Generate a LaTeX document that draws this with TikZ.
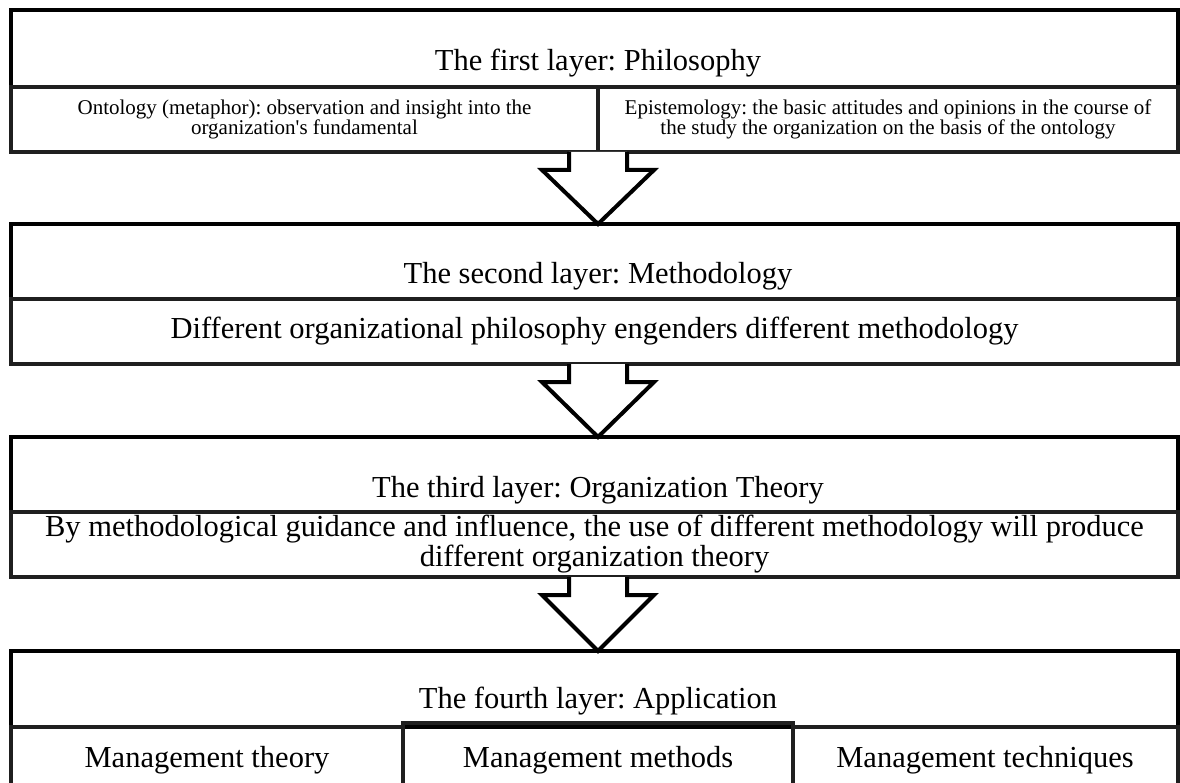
\documentclass[tikz,border=0pt]{standalone}
\usepackage{fontspec}
\setmainfont{Liberation Serif}
\usetikzlibrary{calc}
\frenchspacing
\newcommand\hollowarrow[2]{%
  \draw[bigarrow] ($(#1)+(-29,0)$) -- ($(#1)+(-29,18)$) -- ($(#1)+(-56,18)$)
    -- (#2) -- ($(#1)+(56,18)$) -- ($(#1)+(29,18)$) -- ($(#1)+(29,0)$);}
\begin{document}
\begin{tikzpicture}[x=1pt,y=-1pt,
  frame/.style={draw=black,line width=4pt,rectangle,inner sep=0pt,outer sep=0pt,anchor=north west},
  subframe/.style={draw=black!88,line width=4pt,rectangle,inner sep=0pt,outer sep=0pt,anchor=north west,align=center},
  ttl/.style={font=\fontsize{30.5}{32}\selectfont},
  body/.style={font=\fontsize{30.5}{30}\selectfont},
  small/.style={font=\fontsize{21}{19.5}\selectfont},
  bigarrow/.style={draw=black,line width=4pt,fill=white,line join=miter}]
\useasboundingbox (0,0) rectangle (1180,783);
\clip (0,0) rectangle (1180,783);
% layer 1
\node[frame,minimum width=1167pt,minimum height=77pt] (l1) at (11,10) {};
\node[subframe,small,minimum width=587pt,minimum height=65pt] (l1a) at (11,87)
  {Ontology (metaphor): observation and insight into the\\organization\textquotesingle s fundamental};
\node[subframe,small,minimum width=580pt,minimum height=65pt] (l1b) at (598,87)
  {Epistemology: the basic attitudes and opinions in the course of\\the study the organization on the basis of the ontology};
\node[ttl] (t1) at (598,63) {The first layer: Philosophy};
% layer 2
\node[frame,minimum width=1167pt,minimum height=75pt] (l2) at (11,224) {};
\node[subframe,body,minimum width=1167pt,minimum height=65pt] (l2s) at (11,299)
  {Different organizational philosophy engenders different methodology};
\node[ttl] (t2) at (598,276) {The second layer: Methodology};
% layer 3
\node[frame,minimum width=1167pt,minimum height=75pt] (l3) at (11,437) {};
\node[subframe,body,minimum width=1167pt,minimum height=65pt] (l3s) at (11,512)
  {By methodological guidance and influence, the use of different methodology will produce\\different organization theory};
\node[ttl] (t3) at (598,490) {The third layer: Organization Theory};
% layer 4
\node[frame,minimum width=1167pt,minimum height=76pt] (l4) at (11,651) {};
\node[ttl] (t4) at (598,701) {The fourth layer: Application};
\node[subframe,minimum width=392pt,minimum height=83pt] (l4a) at (11,727) {};
\node[subframe,minimum width=390pt,minimum height=87pt] (l4b) at (403,723) {};
\node[subframe,minimum width=385pt,minimum height=83pt] (l4c) at (793,727) {};
\node[body] (m1) at (207,760) {Management theory};
\node[body] (m2) at (598,760) {Management methods};
\node[body] (m3) at (985,760) {Management techniques};
% arrows
\coordinate (a1s) at (l1a.south east);
\coordinate (a1t) at (l2.north -| a1s);
\coordinate (a2s) at (l2s.south -| a1s);
\coordinate (a2t) at (l3.north -| a1s);
\coordinate (a3s) at (l3s.south -| a1s);
\coordinate (a3t) at (l4.north -| a1s);
\hollowarrow{a1s}{a1t}
\hollowarrow{a2s}{a2t}
\hollowarrow{a3s}{a3t}
\end{tikzpicture}
\end{document}
